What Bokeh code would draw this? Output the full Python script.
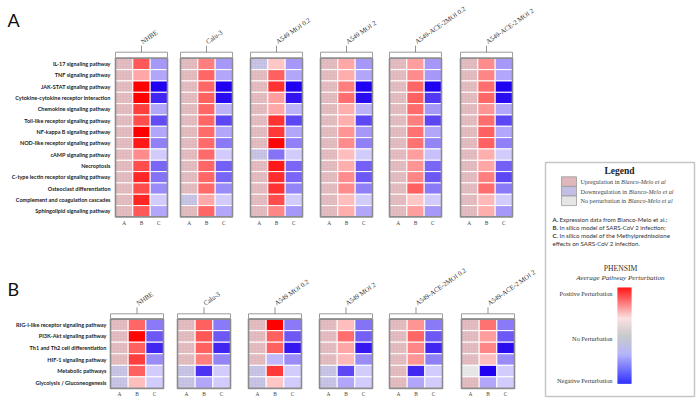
import numpy as np
import pandas as pd
from bokeh.plotting import figure
from bokeh.models import ColumnDataSource, Range1d
from bokeh.transform import linear_cmap, factor_cmap
from bokeh.core.properties import value
from bokeh.embed import file_html
from bokeh.resources import INLINE

# ---------------- data ----------------
samples = ["NHBE", "Calu-3", "A549 MOI 0.2", "A549 MOI 2", "A549-ACE-2MOI 0.2", "A549-ACE-2 MOI 2"]
columns = ["A", "B", "C"]

pathways_a = ["IL-17 signaling pathway", "TNF signaling pathway", "JAK-STAT signaling pathway",
              "Cytokine-cytokine receptor interaction", "Chemokine signaling pathway",
              "Toll-like receptor signaling pathway", "NF-kappa B signaling pathway",
              "NOD-like receptor signaling pathway", "cAMP signaling pathway", "Necroptosis",
              "C-type lectin receptor signaling pathway", "Osteoclast differentiation",
              "Complement and coagulation cascades", "Sphingolipid signaling pathway"]
pathways_b = ["RIG-I-like receptor signaling pathway", "PI3K-Akt signaling pathway",
              "Th1 and Th2 cell differentiation", "HIF-1 signaling pathway",
              "Metabolic pathways", "Glycolysis / Gluconeogenesis"]

# Panel A : expression (A), in-silico infection (B), methylprednisolone (C)
a_nhbe_expr = ["up"] * 14
a_nhbe_B = [0.65, 0.35, 1.0, 1.0, 0.75, 0.7, 1.0, 0.9, 0.45, 0.7, 0.85, 0.7, 0.85, 0.65]
a_nhbe_C = [-0.4, -0.35, -1.0, -0.85, -0.35, -0.7, -0.35, -0.5, -0.2, -0.6, -0.55, -0.45, -0.2, -0.35]

a_calu_expr = ["up"] * 12 + ["down", "up"]
a_calu_B = [0.5, 0.6, 0.6, 0.62, 0.6, 0.6, 0.58, 0.58, 0.58, 0.6, 0.6, 0.58, 0.33, 0.6]
a_calu_C = [-0.4, -0.35, -1.0, -0.95, -0.3, -0.72, -0.35, -0.52, -0.2, -0.62, -0.6, -0.45, -0.2, -0.35]

a_a549lo_expr = ["down"] + ["up"] * 7 + ["down"] + ["up"] * 5
a_a549lo_B = [0.22, 0.62, 0.8, 0.38, 0.35, 0.8, 0.78, 0.97, -0.55, 0.9, 0.82, 0.8, 0.7, 0.47]
a_a549lo_C = [-0.4, -0.35, -1.0, -0.92, -0.3, -0.72, -0.35, -0.5, -0.2, -0.6, -0.6, -0.48, -0.2, -0.4]

a_a549hi_expr = ["up"] * 14
a_a549hi_B = [0.35, 0.32, 0.5, 0.57, 0.32, 0.32, 0.42, 0.45, 0.25, 0.32, 0.45, 0.45, 0.25, 0.32]
a_a549hi_C = [-0.4, -0.35, -1.0, -0.95, -0.3, -0.72, -0.4, -0.5, -0.2, -0.62, -0.65, -0.5, -0.2, -0.35]

a_acelo_expr = ["up"] * 14
a_acelo_B = [0.38, 0.45, 0.6, 0.62, 0.58, 0.5, 0.55, 0.55, 0.38, 0.42, 0.47, 0.62, 0.22, 0.38]
a_acelo_C = [-0.4, -0.4, -1.0, -0.78, -0.4, -0.72, -0.35, -0.48, -0.25, -0.6, -0.65, -0.52, -0.2, -0.4]

a_acehi_expr = ["up"] * 14
a_acehi_B = [0.45, 0.47, 0.57, 0.6, 0.42, 0.57, 0.62, 0.62, 0.32, 0.35, 0.5, 0.57, 0.28, 0.32]
a_acehi_C = [-0.4, -0.35, -1.0, -0.95, -0.35, -0.72, -0.35, -0.5, -0.2, -0.62, -0.72, -0.52, -0.2, -0.4]

# Panel B
b_nhbe_expr = ["up", "up", "up", "up", "down", "down"]
b_nhbe_B = [0.6, 0.97, 0.62, 0.75, 0.62, 0.25]
b_nhbe_C = [-0.52, -0.65, -0.85, -0.45, -0.2, -0.2]

b_calu_expr = ["up", "up", "up", "up", "down", "down"]
b_calu_B = [0.62, 0.66, 0.62, 0.5, -0.8, -0.35]
b_calu_C = [-0.52, -0.65, -0.85, -0.48, -0.2, -0.2]

b_a549lo_expr = ["up", "up", "up", "up", "down", "down"]
b_a549lo_B = [1.0, 0.62, 0.62, -0.28, 0.78, 0.22]
b_a549lo_C = [-0.52, -0.65, -0.9, -0.45, -0.2, -0.2]

b_a549hi_expr = ["up", "up", "up", "up", "down", "down"]
b_a549hi_B = [0.25, 0.57, 0.35, 0.28, -0.72, -0.35]
b_a549hi_C = [-0.55, -0.62, -0.9, -0.45, -0.2, -0.2]

b_acelo_expr = ["up"] * 6
b_acelo_B = [0.42, 0.6, 0.47, 0.42, -0.85, -0.35]
b_acelo_C = [-0.52, -0.65, -0.85, -0.5, -0.2, -0.2]

b_acehi_expr = ["up", "up", "up", "up", "none", "up"]
b_acehi_B = [0.55, 0.38, 0.47, 0.25, -1.0, -0.35]
b_acehi_C = [-0.52, -0.65, -0.95, -0.45, -0.2, -0.2]

expr_levels = ["up", "down", "none"]
expr_labels = ["Upregulation in ", "Downregulation in ", "No perturbation in "]
colorbar_labels = ["Positive Perturbation", "No Perturbation", "Negative Perturbation"]
notes_key = ["A.", "B.", "C.", ""]
notes_text = ["Expression data from Blanco-Melo et al.;", "In silico model of SARS-CoV 2 infection;",
              "In silico model of the Methylprednisolone", "effects on SARS-CoV 2 infection."]

panel_a = [(a_nhbe_expr, a_nhbe_B, a_nhbe_C), (a_calu_expr, a_calu_B, a_calu_C),
           (a_a549lo_expr, a_a549lo_B, a_a549lo_C), (a_a549hi_expr, a_a549hi_B, a_a549hi_C),
           (a_acelo_expr, a_acelo_B, a_acelo_C), (a_acehi_expr, a_acehi_B, a_acehi_C)]
panel_b = [(b_nhbe_expr, b_nhbe_B, b_nhbe_C), (b_calu_expr, b_calu_B, b_calu_C),
           (b_a549lo_expr, b_a549lo_B, b_a549lo_C), (b_a549hi_expr, b_a549hi_B, b_a549hi_C),
           (b_acelo_expr, b_acelo_B, b_acelo_C), (b_acehi_expr, b_acehi_B, b_acehi_C)]

# ---------------- styling ----------------
def make_palette(stops, n=256):
    pos = np.array([s[0] for s in stops])
    rgb = np.array([s[1] for s in stops], dtype=float)
    out = []
    for t in np.linspace(0, 1, n):
        c = [np.interp(t, pos, rgb[:, k]) for k in range(3)]
        out.append("#%02x%02x%02x" % tuple(int(round(v)) for v in c))
    return out

cell_palette = make_palette([(0.0, (32, 0, 240)), (0.5, (255, 255, 255)), (1.0, (255, 0, 0))])
bar_palette = make_palette([(0.0, (30, 30, 255)), (0.3, (172, 172, 250)), (0.5, (196, 196, 196)),
                            (0.68, (250, 222, 222)), (1.0, (255, 0, 0))])
expr_colors = ["#e0b7bb", "#c3bfe3", "#e5e5e5"]

SERIF = "Liberation Serif"
SANS = "Lato"

p = figure(width=700, height=404, x_range=Range1d(0, 700), y_range=Range1d(404, 0),
           output_backend="svg", toolbar_location=None, min_border=0,
           x_axis_location=None, y_axis_location=None)
p.grid.visible = False
p.outline_line_color = None
p.background_fill_color = "white"


def txt(x, y, t, font=SERIF, size="6px", style="normal", color="#333333",
        align="left", baseline="middle", angle=0.0):
    src = ColumnDataSource(dict(x=list(x), y=list(y), t=list(t)))
    p.text(x="x", y="y", text="t", source=src, text_font=value(font), text_font_size=size,
           text_font_style=style, text_color=color, text_align=align,
           text_baseline=baseline, angle=angle)


sections = [
    dict(rows=pathways_a, data=panel_a, x0=[115, 180, 250, 320, 389, 460], w=52,
         head=51.7, top=57.8, rh=11.33, label_right=110, abc_y=222.5, letter="A", letter_y=19.5),
    dict(rows=pathways_b, data=panel_b, x0=[110, 177, 248, 319, 389, 461], w=53,
         head=313.3, top=318.6, rh=11.55, label_right=106, abc_y=393.5, letter="B", letter_y=288),
]

for sec in sections:
    rows, w, top, rh = sec["rows"], sec["w"], sec["top"], sec["rh"]
    cw = w / 3.0
    recs = []
    for j, (expr, bv, cv) in enumerate(sec["data"]):
        x0 = sec["x0"][j]
        for i, r in enumerate(rows):
            y = top + (i + 0.5) * rh
            recs.append(dict(x=x0 + 0.5 * cw, y=y, kind="expr", cat=expr[i], val=0.0))
            recs.append(dict(x=x0 + 1.5 * cw, y=y, kind="sim", cat="", val=bv[i]))
            recs.append(dict(x=x0 + 2.5 * cw, y=y, kind="sim", cat="", val=cv[i]))
    df = pd.DataFrame(recs)
    de = ColumnDataSource(df[df.kind == "expr"])
    ds = ColumnDataSource(df[df.kind == "sim"])
    p.rect(x="x", y="y", width=cw, height=rh, source=de,
           fill_color=factor_cmap("cat", expr_colors, expr_levels),
           line_color="white", line_width=1,
           hatch_pattern="dot", hatch_color="white", hatch_alpha=0.25, hatch_scale=3)
    p.rect(x="x", y="y", width=cw, height=rh, source=ds,
           fill_color=linear_cmap("val", cell_palette, -1, 1),
           line_color="white", line_width=1)

    n = len(rows)
    lefts = sec["x0"]
    rights = [x + w for x in lefts]
    p.quad(left=lefts, right=rights, top=[top] * 6, bottom=[top + n * rh] * 6,
           fill_color=None, line_color="#8c8c8c", line_width=1.6)
    p.quad(left=lefts, right=rights, top=[sec["head"]] * 6, bottom=[top - 0.6] * 6,
           fill_color="white", line_color="#9a9a9a", line_width=1)
    centers = [x + w / 2 for x in lefts]
    p.segment(x0=centers, y0=[sec["head"]] * 6, x1=centers, y1=[sec["head"] - 6.5] * 6,
              line_color="#777777", line_width=0.8)
    txt(centers, [sec["head"] - 10] * 6, samples, size="6.8px", color="#333333",
        align="left", baseline="middle", angle=0.61)

    txt([sec["label_right"]] * n, [top + (i + 0.5) * rh for i in range(n)], rows,
        font=SANS, size="5.5px", style="bold", color="#1a1a1a", align="right")

    ax, ay, at = [], [], []
    for x0 in lefts:
        for k, c in enumerate(columns):
            ax.append(x0 + (k + 0.5) * cw)
            ay.append(sec["abc_y"])
            at.append(c)
    txt(ax, ay, at, size="5.4px", color="#444444", align="center")

    txt([7], [sec["letter_y"]], [sec["letter"]], font=SANS, size="18px", color="#111111")

# ---------------- legend box ----------------
p.quad(left=[545], right=[694], top=[162], bottom=[396], fill_color="white",
       line_color="#c6c6c6", line_width=1.5)
txt([619], [170.5], ["Legend"], size="9.5px", style="bold", color="#222222", align="center")

sw_top = [176.3, 185.9, 195.5]
p.quad(left=[561] * 3, right=[576] * 3, top=sw_top, bottom=[t + 9.6 for t in sw_top],
       fill_color=expr_colors, line_color="#9a9a9a", line_width=0.8)
sw_y = [t + 4.8 for t in sw_top]
txt([580] * 3, sw_y, expr_labels, size="6.2px", color="#444444")
txt([620.6, 628.3, 627.5], sw_y, ["Blanco-Melo et al"] * 3, size="6.2px", style="italic",
    color="#444444")

note_y = [219, 227, 235, 243]
txt([552] * 4, note_y, notes_key, font=SANS, size="6.1px", style="bold", color="#333333")
txt([559, 559, 559, 552], note_y, notes_text, font=SANS, size="6.1px", color="#333333")

txt([620], [268], ["PHENSIM"], size="7.7px", color="#333333", align="center")
txt([620], [277.5], ["Average Pathway Perturbation"], size="7.1px", style="italic",
    color="#333333", align="center")

# colour bar
nb = 96
edges = np.linspace(287, 383, nb + 1)
bar_vals = np.linspace(1, -1, nb)
bsrc = ColumnDataSource(dict(top=edges[:-1], bottom=edges[1:] + 0.3, v=bar_vals))
p.quad(left=617, right=631, top="top", bottom="bottom", source=bsrc,
       fill_color=linear_cmap("v", bar_palette, -1, 1), line_color=None)
txt([612] * 3, [293, 338, 380], colorbar_labels, size="6.3px", color="#333333", align="right")

open("out.html", "w").write(file_html(p, INLINE))
